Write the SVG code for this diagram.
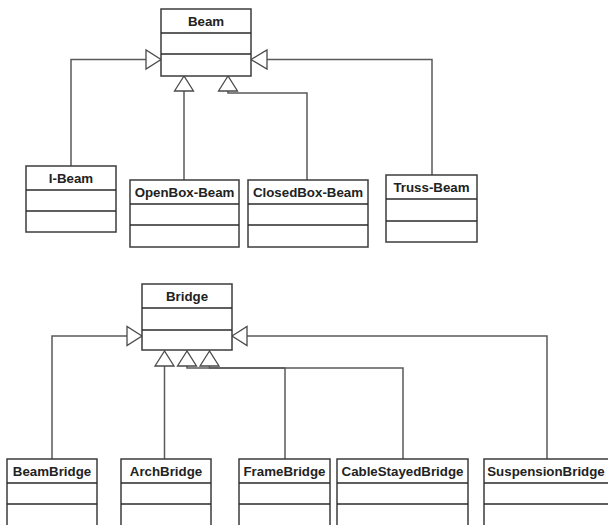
<svg xmlns="http://www.w3.org/2000/svg" width="608" height="525" viewBox="0 0 608 525">
<style>
.box{fill:#fff;stroke:#3c3c3c;stroke-width:1.5}
.div{stroke:#2a2a2a;stroke-width:1.5}
.t{font-family:"Liberation Sans",Arial,sans-serif;font-weight:bold;font-size:13.3px;fill:#222;text-anchor:middle}
.c{fill:none;stroke:#5a5a5a;stroke-width:1.5}
.tri{fill:#fff;stroke:#4a4a4a;stroke-width:1.3}
</style>
<rect width="608" height="525" fill="#fff"/>
<g id="connectors">
<path class="c" d="M71,166 V59.5 H146"/>
<polygon class="tri" points="161,59.5 146,50 146,69"/>
<path class="c" d="M432,175 V59.5 H267"/>
<polygon class="tri" points="251,59.5 267,50 267,69"/>
<path class="c" d="M184,180 V91"/>
<polygon class="tri" points="184,76 174.5,91 193.5,91"/>
<path class="c" d="M307,180 V93 H228 V91"/>
<polygon class="tri" points="228,76 218.5,91 237.5,91"/>
<path class="c" d="M52,459 V336 H127"/>
<polygon class="tri" points="142,336 127,326.5 127,345.5"/>
<path class="c" d="M547,459 V336 H247"/>
<polygon class="tri" points="232,336 247,326.5 247,345.5"/>
<path class="c" d="M164.5,459 V366"/>
<polygon class="tri" points="164.5,351 155,366 174,366"/>
<path class="c" d="M285,459 V368 H209.5 V366"/>
<polygon class="tri" points="209.5,351 200,366 219,366"/>
<path class="c" d="M403,459 V368 H187 V366"/>
<polygon class="tri" points="187,351 177.5,366 196.5,366"/>
</g>
<g id="Beam">
<rect class="box" x="161" y="9" width="90" height="67"/>
<line class="div" x1="161" y1="33" x2="251" y2="33"/>
<line class="div" x1="161" y1="54" x2="251" y2="54"/>
<text class="t" x="206" y="26">Beam</text>
</g>
<g id="I-Beam">
<rect class="box" x="26" y="166" width="90" height="66"/>
<line class="div" x1="26" y1="190" x2="116" y2="190"/>
<line class="div" x1="26" y1="211" x2="116" y2="211"/>
<text class="t" x="71" y="182.5">I-Beam</text>
</g>
<g id="OpenBox-Beam">
<rect class="box" x="130" y="180" width="109" height="67"/>
<line class="div" x1="130" y1="204" x2="239" y2="204"/>
<line class="div" x1="130" y1="225" x2="239" y2="225"/>
<text class="t" x="184.5" y="197">OpenBox-Beam</text>
</g>
<g id="ClosedBox-Beam">
<rect class="box" x="248" y="180" width="120" height="67"/>
<line class="div" x1="248" y1="204" x2="368" y2="204"/>
<line class="div" x1="248" y1="225" x2="368" y2="225"/>
<text class="t" x="308" y="197">ClosedBox-Beam</text>
</g>
<g id="Truss-Beam">
<rect class="box" x="386" y="175" width="91" height="67"/>
<line class="div" x1="386" y1="199" x2="477" y2="199"/>
<line class="div" x1="386" y1="221" x2="477" y2="221"/>
<text class="t" x="431.5" y="192">Truss-Beam</text>
</g>
<g id="Bridge">
<rect class="box" x="142" y="284" width="90" height="66"/>
<line class="div" x1="142" y1="308" x2="232" y2="308"/>
<line class="div" x1="142" y1="330" x2="232" y2="330"/>
<text class="t" x="187" y="301">Bridge</text>
</g>
<g id="BeamBridge">
<rect class="box" x="7" y="459" width="90" height="72"/>
<line class="div" x1="7" y1="483" x2="97" y2="483"/>
<line class="div" x1="7" y1="504" x2="97" y2="504"/>
<text class="t" x="52" y="476">BeamBridge</text>
</g>
<g id="ArchBridge">
<rect class="box" x="121" y="459" width="90" height="72"/>
<line class="div" x1="121" y1="483" x2="211" y2="483"/>
<line class="div" x1="121" y1="504" x2="211" y2="504"/>
<text class="t" x="166" y="476">ArchBridge</text>
</g>
<g id="FrameBridge">
<rect class="box" x="239" y="459" width="91" height="72"/>
<line class="div" x1="239" y1="483" x2="330" y2="483"/>
<line class="div" x1="239" y1="504" x2="330" y2="504"/>
<text class="t" x="284.5" y="476">FrameBridge</text>
</g>
<g id="CableStayedBridge">
<rect class="box" x="337" y="459" width="131" height="72"/>
<line class="div" x1="337" y1="483" x2="468" y2="483"/>
<line class="div" x1="337" y1="504" x2="468" y2="504"/>
<text class="t" x="402.5" y="476">CableStayedBridge</text>
</g>
<g id="SuspensionBridge">
<rect class="box" x="484" y="459" width="130" height="72"/>
<line class="div" x1="484" y1="483" x2="614" y2="483"/>
<line class="div" x1="484" y1="504" x2="614" y2="504"/>
<text class="t" x="546" y="476">SuspensionBridge</text>
</g>
</svg>
